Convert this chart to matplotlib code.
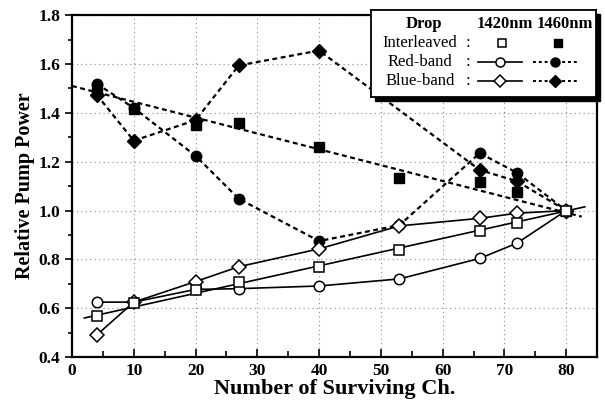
import numpy as np
import matplotlib.pyplot as plt
from matplotlib.patches import Rectangle

plt.rcParams['font.family'] = ['Liberation Serif', 'DejaVu Serif']

# Number of surviving channels
ch_all = [4, 10, 20, 27, 40, 53, 66, 72, 80]
ch_blue_1460 = [4, 10, 20, 27, 40, 66, 72, 80]

# 1420nm drop (open markers)
inter_1420 = [0.568, 0.62, 0.675, 0.709, 0.77, 0.839, 0.916, 0.948, 1.0]
red_1420 = [0.625, 0.625, 0.677, 0.68, 0.691, 0.72, 0.804, 0.866, 1.0]
blue_1420 = [0.49, 0.625, 0.709, 0.77, 0.843, 0.937, 0.968, 0.989, 1.0]

# 1460nm drop (filled markers)
inter_1460 = [1.50, 1.415, 1.35, 1.358, 1.262, 1.132, 1.116, 1.077, 1.0]
red_1460 = [1.519, 1.42, 1.224, 1.048, 0.875, 0.94, 1.235, 1.155, 1.0]
blue_1460 = [1.474, 1.286, 1.37, 1.594, 1.655, 1.166, 1.12, 1.0]

# straight fit lines for the interleaved case (end points)
fit_1420_x = [2, 83]
fit_1420_y = [0.56, 1.015]
fit_1460_x = [0, 82.5]
fit_1460_y = [1.51, 0.975]

fig = plt.figure(figsize=(6.05, 4.09), dpi=100)
ax = fig.add_axes([0.119, 0.127, 0.868, 0.836])

dash = (0, (2.2, 1.6))

# fit lines
ax.plot(fit_1420_x, fit_1420_y, color='black', lw=1.2, zorder=2)
ax.plot(fit_1460_x, fit_1460_y, color='black', lw=1.6, ls=dash, zorder=2)

# 1460nm curves
ax.plot(ch_all, red_1460, color='black', lw=1.6, ls=dash, marker='o',
        ms=7.5, mfc='black', mec='black', zorder=3)
ax.plot(ch_blue_1460, blue_1460, color='black', lw=1.6, ls=dash, marker='D',
        ms=7.5, mfc='black', mec='black', zorder=3)
ax.plot(ch_all, inter_1460, ls='none', marker='s', ms=7.5,
        mfc='black', mec='black', zorder=3)

# 1420nm curves
ax.plot(ch_all, red_1420, color='black', lw=1.2, marker='o', ms=7.5,
        mfc='white', mec='black', mew=1.1, zorder=4)
ax.plot(ch_all, blue_1420, color='black', lw=1.2, marker='D', ms=7,
        mfc='white', mec='black', mew=1.1, zorder=4)
ax.plot(ch_all, inter_1420, ls='none', marker='s', ms=6.5,
        mfc='white', mec='black', mew=1.1, zorder=4)

ax.set_xlim(0, 85)
ax.set_ylim(0.4, 1.8)
ax.set_xticks(np.arange(0, 81, 10))
ax.set_xticks(np.arange(0, 85, 5), minor=True)
ax.set_yticks(np.arange(0.4, 1.81, 0.2))
ax.set_yticks(np.arange(0.4, 1.81, 0.1), minor=True)
ax.set_yticklabels(['%.1f' % v for v in np.arange(0.4, 1.81, 0.2)])
ax.tick_params(axis='x', which='major', direction='in', length=6, width=1.2, pad=4)
ax.tick_params(axis='x', which='minor', direction='in', length=4, width=1.2)
ax.tick_params(axis='y', which='major', direction='out', length=5, width=1.2)
ax.tick_params(axis='y', which='minor', direction='out', length=3, width=1.2)
ax.tick_params(labelsize=12.5)
for lab in ax.get_xticklabels() + ax.get_yticklabels():
    lab.set_fontweight('bold')

ax.grid(True, which='major', color='0.55', ls=(0, (1, 3)), lw=0.8)
ax.set_axisbelow(True)
for s in ax.spines.values():
    s.set_linewidth(1.6)

ax.set_xlabel('Number of Surviving Ch.', fontsize=16, fontweight='bold', labelpad=0)
ax.set_ylabel('Relative Pump Power', fontsize=14.5, fontweight='bold', labelpad=2)

# legend box with shadow
W, H = 605.0, 409.0
lx0, ly0, lx1, ly1 = 371, 10, 596, 97
shadow = Rectangle(((lx0 + 4) / W, 1 - (ly1 + 4) / H), (lx1 - lx0) / W, (ly1 - ly0) / H,
                   transform=fig.transFigure, facecolor='black', edgecolor='black', zorder=9)
fig.patches.append(shadow)
lax = fig.add_axes([lx0 / W, 1 - ly1 / H, (lx1 - lx0) / W, (ly1 - ly0) / H], zorder=10)
lax.set_xlim(lx0, lx1)
lax.set_ylim(ly1, ly0)
lax.set_xticks([])
lax.set_yticks([])
lax.set_facecolor('white')
for s in lax.spines.values():
    s.set_linewidth(1.3)

lax.text(424, 24, 'Drop', ha='center', va='center', fontsize=12, fontweight='bold')
lax.text(505, 24, '1420nm', ha='center', va='center', fontsize=12, fontweight='bold')
lax.text(565, 24, '1460nm', ha='center', va='center', fontsize=12, fontweight='bold')
rows = ['Interleaved', 'Red-band', 'Blue-band']
row_y = [43, 62, 81]
for name, yy in zip(rows, row_y):
    lax.text(420, yy, name, ha='center', va='center', fontsize=12)
    lax.text(468, yy, ':', ha='center', va='center', fontsize=12)
lax.plot([502], [43], ls='none', marker='s', ms=5.5, mfc='white', mec='black', mew=1.1)
lax.plot([558], [43], ls='none', marker='s', ms=6, mfc='black', mec='black')
lax.plot([478, 522], [62, 62], color='black', lw=1.2)
lax.plot([500], [62], marker='o', ms=6.5, mfc='white', mec='black', mew=1.1)
lax.plot([533, 577], [62, 62], color='black', lw=1.4, ls=(0, (1.5, 1.5)))
lax.plot([555], [62], marker='o', ms=6.5, mfc='black', mec='black')
lax.plot([478, 522], [81, 81], color='black', lw=1.2)
lax.plot([500], [81], marker='D', ms=6, mfc='white', mec='black', mew=1.1)
lax.plot([533, 577], [81, 81], color='black', lw=1.4, ls=(0, (1.5, 1.5)))
lax.plot([555], [81], marker='D', ms=6.5, mfc='black', mec='black')

fig.savefig('out.png', dpi=100)
